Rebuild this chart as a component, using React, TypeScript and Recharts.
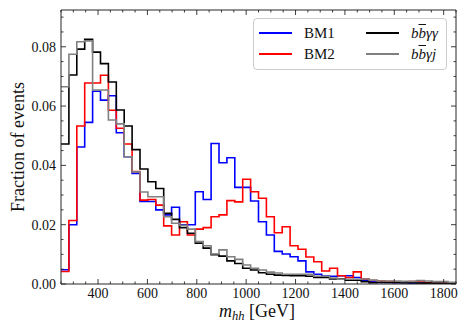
import { ComposedChart, Line, XAxis, YAxis, Legend, Label } from "recharts";

// histogram bin edges in GeV (50 bins of 32 GeV)
const BIN_EDGES = [
  250, 282, 314, 346, 378, 410, 442, 474, 506, 538,
  570, 602, 634, 666, 698, 730, 762, 794, 826, 858,
  890, 922, 954, 986, 1018, 1050, 1082, 1114, 1146, 1178,
  1210, 1242, 1274, 1306, 1338, 1370, 1402, 1434, 1466, 1498,
  1530, 1562, 1594, 1626, 1658, 1690, 1722, 1754, 1786, 1818, 1850,
];

const BM1 = [
  0.0048, 0.0200, 0.0462, 0.0545, 0.0650, 0.0620, 0.0635, 0.0510, 0.0429, 0.0373,
  0.0278, 0.0278, 0.0250, 0.0233, 0.0259, 0.0200, 0.0200, 0.0311, 0.0285, 0.0474,
  0.0409, 0.0426, 0.0326, 0.0326, 0.0280, 0.0210, 0.0165, 0.0110, 0.0101, 0.0092,
  0.0078, 0.0041, 0.0033, 0.0027, 0.0026, 0.0028, 0.0028, 0.0022, 0.0013, 0.0008,
  0.0005, 0.0005, 0.0004, 0.0004, 0.0003, 0.0003, 0.0003, 0.0002, 0.0002, 0.0002,
];

const BM2 = [
  0.0042, 0.0214, 0.0533, 0.0678, 0.0678, 0.0704, 0.0586, 0.0525, 0.0472, 0.0379,
  0.0283, 0.0285, 0.0266, 0.0196, 0.0165, 0.0210, 0.0165, 0.0185, 0.0190, 0.0227,
  0.0233, 0.0281, 0.0277, 0.0353, 0.0311, 0.0289, 0.0227, 0.0173, 0.0193, 0.0129,
  0.0117, 0.0091, 0.0075, 0.0044, 0.0053, 0.0028, 0.0022, 0.0041, 0.0017, 0.0012,
  0.0010, 0.0008, 0.0006, 0.0006, 0.0008, 0.0010, 0.0005, 0.0004, 0.0003, 0.0002,
];

const BB_AA = [
  0.0472, 0.0705, 0.0792, 0.0825, 0.0782, 0.0743, 0.0681, 0.0587, 0.0533, 0.0453,
  0.0388, 0.0345, 0.0322, 0.0238, 0.0218, 0.0190, 0.0171, 0.0138, 0.0121, 0.0099,
  0.0094, 0.0078, 0.0069, 0.0053, 0.0047, 0.0038, 0.0033, 0.0030, 0.0029, 0.0028,
  0.0028, 0.0026, 0.0022, 0.0022, 0.0017, 0.0017, 0.0013, 0.0013, 0.0008, 0.0004,
  0.0006, 0.0005, 0.0005, 0.0004, 0.0004, 0.0003, 0.0003, 0.0003, 0.0002, 0.0002,
];

const BB_AJ = [
  0.0665, 0.0775, 0.0817, 0.0820, 0.0654, 0.0654, 0.0553, 0.0540, 0.0429, 0.0378,
  0.0310, 0.0294, 0.0294, 0.0227, 0.0205, 0.0198, 0.0185, 0.0143, 0.0129, 0.0101,
  0.0115, 0.0092, 0.0083, 0.0064, 0.0053, 0.0047, 0.0040, 0.0037, 0.0033, 0.0033,
  0.0033, 0.0033, 0.0026, 0.0026, 0.0020, 0.0016, 0.0016, 0.0016, 0.0017, 0.0013,
  0.0010, 0.0010, 0.0010, 0.0009, 0.0009, 0.0012, 0.0010, 0.0008, 0.0008, 0.0006,
];

const X_TICKS = [400, 600, 800, 1000, 1200, 1400, 1600, 1800];
const Y_TICKS = [0, 0.02, 0.04, 0.06, 0.08];
const X_DOMAIN: [number, number] = [250, 1850];
const Y_DOMAIN: [number, number] = [0, 0.0924];

const BLUE = "#0000ff";
const RED = "#ff0000";
const BLACK = "#000000";
const GRAY = "#808080";
const AXIS = "#262626";
const FONT = "'Liberation Serif', 'DejaVu Serif', serif";

function steps(from: number, to: number, step: number) {
  const out: number[] = [];
  const n = Math.round((to - from) / step);
  for (let i = 0; i <= n; i++) out.push(+(from + i * step).toFixed(4));
  return out;
}

const X_MINOR = steps(250, 1850, 50);
const Y_MINOR = steps(0, 0.09, 0.005);

const isMajor = (v: number, majors: number[]) => majors.some((m) => Math.abs(m - v) < 1e-9);

// each edge holds the bin to its right; the closing edge repeats the last bin
const rows = BIN_EDGES.map((x, i) => {
  const k = Math.min(i, BM1.length - 1);
  return { x, bm1: BM1[k], bm2: BM2[k], bbaa: BB_AA[k], bbaj: BB_AJ[k] };
});

function BottomTick({ x, y, payload }: any) {
  const major = isMajor(payload.value, X_TICKS);
  return (
    <g>
      <line x1={x} x2={x} y1={y} y2={y - (major ? 5 : 2.5)} stroke={AXIS} strokeWidth={0.9} />
      {major && (
        <text x={x} y={y + 14} textAnchor="middle" fontSize={14} fill="#111" fontFamily={FONT}>
          {payload.value}
        </text>
      )}
    </g>
  );
}

function TopTick({ x, y, payload }: any) {
  const major = isMajor(payload.value, X_TICKS);
  return <line x1={x} x2={x} y1={y} y2={y + (major ? 5 : 2.5)} stroke={AXIS} strokeWidth={0.9} />;
}

function LeftTick({ x, y, payload }: any) {
  const major = isMajor(payload.value, Y_TICKS);
  return (
    <g>
      <line x1={x} x2={x + (major ? 5 : 2.5)} y1={y} y2={y} stroke={AXIS} strokeWidth={0.9} />
      {major && (
        <text x={x - 5} y={y} dy="0.35em" textAnchor="end" fontSize={14} fill="#111" fontFamily={FONT}>
          {payload.value.toFixed(2)}
        </text>
      )}
    </g>
  );
}

function RightTick({ x, y, payload }: any) {
  const major = isMajor(payload.value, Y_TICKS);
  return <line x1={x} x2={x - (major ? 5 : 2.5)} y1={y} y2={y} stroke={AXIS} strokeWidth={0.9} />;
}

function XTitle() {
  return (
    <text x={257} y={317} textAnchor="middle" fontSize={18} fill="#111" fontFamily={FONT}>
      <tspan fontStyle="italic">m</tspan>
      <tspan fontStyle="italic" fontSize={12.5} dy={3}>hh</tspan>
      <tspan dy={-3}> [GeV]</tspan>
    </text>
  );
}

function YTitle() {
  return (
    <text x={24} y={147} transform="rotate(-90, 24, 147)" textAnchor="middle" fontSize={18} fill="#111" fontFamily={FONT}>
      Fraction of events
    </text>
  );
}

const bbbar = (
  <>
    b<span style={{ textDecoration: "overline" }}>b</span>
  </>
);

const LEGEND_ITEMS = [
  { color: BLUE, label: <>BM1</>, col: 0, row: 0 },
  { color: RED, label: <>BM2</>, col: 0, row: 1 },
  { color: BLACK, label: <i>{bbbar}γγ</i>, col: 1, row: 0 },
  { color: GRAY, label: <i>{bbbar}γj</i>, col: 1, row: 1 },
];

function LegendBox() {
  return (
    <div
      style={{
        position: "relative", width: 194, height: 52, boxSizing: "border-box",
        border: "1px solid #cccccc", borderRadius: 4, background: "rgba(255,255,255,0.8)",
        fontFamily: FONT, fontSize: 15, color: "#111",
      }}
    >
      {LEGEND_ITEMS.map((it, i) => {
        const top = it.row === 0 ? 14 : 35;
        const left = it.col === 0 ? 5 : 112;
        return (
          <div key={i}>
            <div style={{ position: "absolute", left, top: top - 0.8, width: 33, height: 1.6, background: it.color }} />
            <div style={{ position: "absolute", left: left + 45, top: top - 10, lineHeight: "20px", whiteSpace: "nowrap" }}>
              {it.label}
            </div>
          </div>
        );
      })}
    </div>
  );
}

export default function App() {
  return (
    <div style={{ position: "absolute", left: 0, top: 0, width: 468, height: 334, background: "#fff", fontFamily: FONT }}>
      <ComposedChart width={468} height={334} data={rows} margin={{ top: 10, right: 12, bottom: 0, left: 0 }}>
        <XAxis
          xAxisId="x" dataKey="x" type="number" domain={X_DOMAIN} allowDataOverflow
          ticks={X_MINOR} interval={0} tick={BottomTick} tickLine={false} tickSize={0} tickMargin={0}
          height={50} axisLine={{ stroke: AXIS, strokeWidth: 1 }}
        >
          <Label content={XTitle} />
        </XAxis>
        <XAxis
          xAxisId="top" dataKey="x" type="number" orientation="top" mirror domain={X_DOMAIN} allowDataOverflow
          ticks={X_MINOR} interval={0} tick={TopTick} tickLine={false} tickSize={0} tickMargin={0}
          height={1} axisLine={{ stroke: AXIS, strokeWidth: 1 }}
        />
        <YAxis
          yAxisId="y" type="number" domain={Y_DOMAIN} allowDataOverflow
          ticks={Y_MINOR} interval={0} tick={LeftTick} tickLine={false} tickSize={0} tickMargin={0}
          width={61} axisLine={{ stroke: AXIS, strokeWidth: 1 }}
        >
          <Label content={YTitle} />
        </YAxis>
        <YAxis
          yAxisId="right" type="number" orientation="right" mirror domain={Y_DOMAIN} allowDataOverflow
          ticks={Y_MINOR} interval={0} tick={RightTick} tickLine={false} tickSize={0} tickMargin={0}
          width={1} axisLine={{ stroke: AXIS, strokeWidth: 1 }}
        />
        <Legend
          content={LegendBox}
          layout="horizontal" verticalAlign="middle" align="center"
          wrapperStyle={{ left: 253, top: 18, width: 194, height: 52 }}
        />
        <Line xAxisId="x" yAxisId="y" type="stepAfter" dataKey="bm1" stroke={BLUE} strokeWidth={1.6} dot={false} isAnimationActive={false} />
        <Line xAxisId="x" yAxisId="y" type="stepAfter" dataKey="bm2" stroke={RED} strokeWidth={1.6} dot={false} isAnimationActive={false} />
        <Line xAxisId="x" yAxisId="y" type="stepAfter" dataKey="bbaa" stroke={BLACK} strokeWidth={1.6} dot={false} isAnimationActive={false} />
        <Line xAxisId="x" yAxisId="y" type="stepAfter" dataKey="bbaj" stroke={GRAY} strokeWidth={1.6} dot={false} isAnimationActive={false} />
      </ComposedChart>
    </div>
  );
}
